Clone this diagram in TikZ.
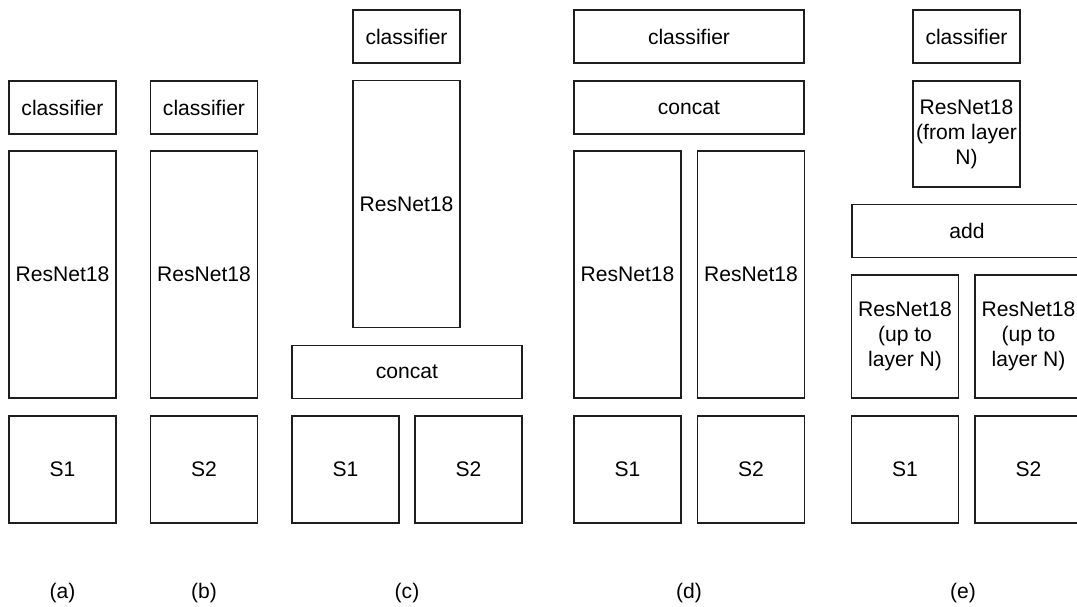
\documentclass[tikz,border=0pt]{standalone}
\usepackage{fontspec}
\setmainfont{Liberation Sans}
\usepackage{xcolor}
\definecolor{rub}{RGB}{30,30,30}

\begin{document}
\begin{tikzpicture}[x=0.02cm, y=-0.02cm,
    blok/.style={draw=rub, line width=0.8pt, inner sep=0pt, align=center,
      font=\fontsize{12}{14.2}\selectfont},
    malo/.style={blok, minimum width=2.14cm, minimum height=1.06cm},
    siroko/.style={blok, minimum width=4.6cm, minimum height=1.06cm},
    visoko/.style={blok, minimum width=2.14cm, minimum height=4.94cm},
    srednje/.style={blok, minimum width=2.14cm, minimum height=2.46cm},
    kvadrat/.style={blok, minimum width=2.14cm, minimum height=2.14cm},
    oznaka/.style={font=\fontsize{12}{14.2}\selectfont}]
  \useasboundingbox (0,0) rectangle (1077,606);

  % (a)
  \node[malo]    (aCls) at (62.5,107.5) {classifier};
  \node[visoko]  (aRes) at (62.5,274.5) {ResNet18};
  \node[kvadrat] (aS1)  at (62.5,469.5) {S1};
  \node[oznaka]  (aLab) at (62.5,593)   {(a)};

  % (b)
  \node[malo]    (bCls) at (204,107.5) {classifier};
  \node[visoko]  (bRes) at (204,274.5) {ResNet18};
  \node[kvadrat] (bS2)  at (204,469.5) {S2};
  \node[oznaka]  (bLab) at (204,593)   {(b)};

  % (c)
  \node[malo]    (cCls) at (406.5,36.5) {classifier};
  \node[visoko]  (cRes) at (406.5,204)  {ResNet18};
  \node[siroko]  (cCat) at (407,372)    {concat};
  \node[kvadrat] (cS1)  at (345.5,469.5) {S1};
  \node[kvadrat] (cS2)  at (468.5,469.5) {S2};
  \node[oznaka]  (cLab) at (407,593)    {(c)};

  % (d)
  \node[siroko]  (dCls)  at (689,36.5)   {classifier};
  \node[siroko]  (dCat)  at (689,107.5)  {concat};
  \node[visoko]  (dResL) at (627.5,274.5) {ResNet18};
  \node[visoko]  (dResR) at (751,274.5)   {ResNet18};
  \node[kvadrat] (dS1)   at (627.5,469.5) {S1};
  \node[kvadrat] (dS2)   at (751,469.5)   {S2};
  \node[oznaka]  (dLab)  at (689,593)     {(d)};

  % (e)
  \node[malo]    (eCls)  at (966.5,36.5) {classifier};
  \node[blok, minimum width=2.14cm, minimum height=2.12cm]
                 (eTop)  at (966.5,134)  {ResNet18\\(from layer\\N)};
  \node[siroko]  (eAdd)  at (967,231)    {add};
  \node[srednje] (eResL) at (905,336.5)  {ResNet18\\(up to\\layer N)};
  \node[srednje] (eResR) at (1028.5,336.5) {ResNet18\\(up to\\layer N)};
  \node[kvadrat] (eS1)   at (905,469.5)  {S1};
  \node[kvadrat] (eS2)   at (1028.5,469.5) {S2};
  \node[oznaka]  (eLab)  at (963,593)    {(e)};

\end{tikzpicture}
\end{document}
